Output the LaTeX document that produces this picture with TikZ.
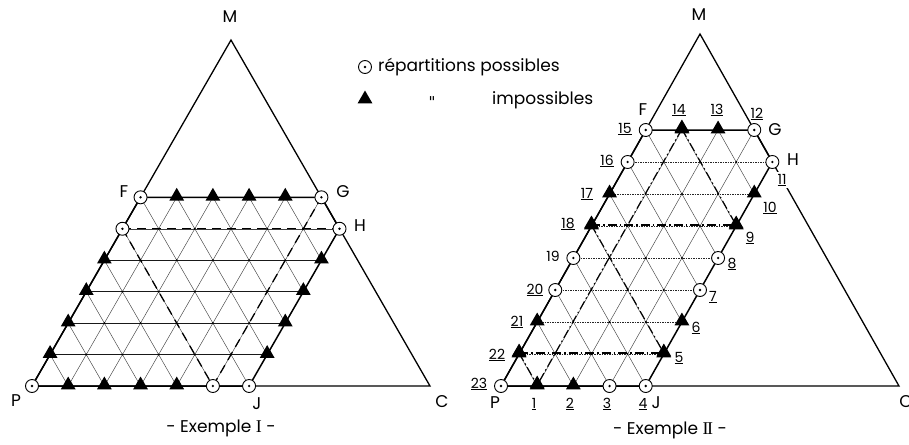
\documentclass[tikz,border=0pt]{standalone}
\usepackage{fontspec}
\setmainfont{Poppins}
\newfontfamily\romfont{Liberation Serif}
\newfontfamily\plainfont{DejaVu Sans}
\usetikzlibrary{shapes.geometric}
\tikzset{
  triedge/.style={line width=1.3pt},
  hexedge/.style={line width=1.5pt, line join=round},
  gridline/.style={line width=0.45pt, black!75},
  rowline/.style={line width=0.6pt, black!90},
  rowdot/.style={line width=0.6pt, black!85, dash pattern=on 1.5pt off 1pt},
  possible/.style={circle, draw, fill=white, minimum size=13pt, inner sep=0pt, line width=0.9pt,
    label={[circle, fill=black, inner sep=0pt, minimum size=2.6pt]center:{}}},
  impossible/.style={regular polygon, regular polygon sides=3, fill=black, minimum size=17pt, inner sep=0pt, yshift=1pt},
  lab/.style={font=\fontsize{17}{20}\selectfont, inner sep=0pt},
  num/.style={font=\fontsize{14}{16}\selectfont, inner sep=0.5pt},
  dashI/.style={line width=1.3pt, dash pattern=on 9pt off 6pt},
  dashII/.style={line width=1.1pt, dash pattern=on 9pt off 3pt on 1.5pt off 3pt},
  gdot/.style={circle, fill=black, inner sep=0pt, minimum size=2.2pt},
}
\newcommand{\romI}{{\romfont\fontsize{18}{20}\selectfont I}}
\newcommand{\romII}{{\romfont\fontsize{18}{20}\selectfont I\kern-1.6pt I}}
\begin{document}
\begin{tikzpicture}[x=1pt,y=-1pt]
\useasboundingbox (0,0) rectangle (909,444);

% ================= Example I =================
\begin{scope}[shift={(32,386)}, x={(36.18pt,0pt)}, y={(18.09pt,31.45pt)}]
  \coordinate (LP) at (0,0);
  \coordinate (LJ) at (6,0);
  \coordinate (LH) at (6,5);
  \coordinate (LG) at (5,6);
  \coordinate (LF) at (0,6);
  \coordinate (LM) at (0,11);
  \coordinate (LC) at (11,0);
  \coordinate (LQ) at (0,5);
  \coordinate (LK) at (5,0);
  % grid
  \foreach \r in {1,...,4} \draw[rowline] (0,\r) -- (6,\r);
  \draw[gridline] (0,5) -- (6,5);
  \foreach \k in {1,...,5} \draw[gridline] (\k,0) -- (\k,6);
  \foreach \s in {1,...,10}{
    \pgfmathtruncatemacro{\ka}{min(\s,6)}
    \pgfmathtruncatemacro{\ra}{\s-\ka}
    \pgfmathtruncatemacro{\kb}{max(0,\s-6)}
    \pgfmathtruncatemacro{\rb}{min(\s,6)}
    \draw[gridline] (\ka,\ra) -- (\kb,\rb);
  }
  \foreach \k in {1,...,5} \foreach \r in {1,...,5} \node[gdot] at (\k,\r) {};
  % outlines
  \draw[triedge] (LP) -- (LC) -- (LM) -- cycle;
  \draw[hexedge] (LP) -- (LJ) -- (LH) -- (LG) -- (LF) -- cycle;
  % dashed
  \draw[dashI] (LQ) -- (LH);
  \draw[dashI] (LQ) -- (LK);
  \draw[dashI] (LK) -- (LG);
  % markers
  \node[possible] (mLP) at (LP) {};
  \foreach \k in {1,...,4} \node[impossible] (mLb\k) at (\k,0) {};
  \node[possible] (mLK) at (LK) {};
  \node[possible] (mLJ) at (LJ) {};
  \foreach \r in {1,...,4} {
    \node[impossible] (mLl\r) at (0,\r) {};
    \node[impossible] (mLr\r) at (6,\r) {};
  }
  \node[possible] (mLQ) at (LQ) {};
  \node[possible] (mLH) at (LH) {};
  \node[possible] (mLF) at (LF) {};
  \foreach \k in {1,...,4} \node[impossible] (mLt\k) at (\k,6) {};
  \node[possible] (mLG) at (LG) {};
\end{scope}

\node[lab] (tLM) at (230,17) {M};
\node[lab] (tLF) at (124,192) {F};
\node[lab] (tLG) at (343,192) {G};
\node[lab] (tLH) at (360,226) {H};
\node[lab] (tLP) at (16,401) {P};
\node[lab] (tLJ) at (257,404) {J};
\node[lab] (tLC) at (442,402) {C};
\node[lab] (tEx1) at (221,428) {- Exemple \romI\ -};

% legend
\node[possible] (legC) at (365,67) {};
\node[lab, anchor=west] (legCt) at (378,67) {répartitions possibles};
\node[impossible] (legT) at (365,100) {};
\node[lab] (legD) at (432,102) {\plainfont\fontsize{15}{15}\selectfont "};
\node[lab, anchor=west] (legTt) at (492,100) {impossibles};

% ================= Example II =================
\begin{scope}[shift={(501,386)}, x={(36.18pt,0pt)}, y={(18.09pt,32pt)}]
  \coordinate (RP) at (0,0);
  \coordinate (RJ) at (4,0);
  \coordinate (RH) at (4,7);
  \coordinate (RG) at (3,8);
  \coordinate (RF) at (0,8);
  \coordinate (RM) at (0,11);
  \coordinate (RC) at (11,0);
  % grid
  \foreach \r in {1,...,7} \draw[rowdot] (0,\r) -- (4,\r);
  \foreach \k in {1,...,3} \draw[gridline] (\k,0) -- (\k,8);
  \foreach \s in {1,...,10}{
    \pgfmathtruncatemacro{\ka}{min(\s,4)}
    \pgfmathtruncatemacro{\ra}{\s-\ka}
    \pgfmathtruncatemacro{\kb}{max(0,\s-8)}
    \pgfmathtruncatemacro{\rb}{min(\s,8)}
    \draw[gridline] (\ka,\ra) -- (\kb,\rb);
  }
  \foreach \k in {1,...,3} \foreach \r in {1,...,7} \node[gdot] at (\k,\r) {};
  % outlines
  \draw[triedge] (RP) -- (RC) -- (RM) -- cycle;
  \draw[hexedge] (RP) -- (RJ) -- (RH) -- (RG) -- (RF) -- cycle;
  % markers
  \node[possible]   (R23) at (0,0) {};
  \node[impossible] (R1)  at (1,0) {};
  \node[impossible] (R2)  at (2,0) {};
  \node[possible]   (R3)  at (3,0) {};
  \node[possible]   (R4)  at (4,0) {};
  \node[impossible] (R5)  at (4,1) {};
  \node[impossible] (R6)  at (4,2) {};
  \node[possible]   (R7)  at (4,3) {};
  \node[possible]   (R8)  at (4,4) {};
  \node[impossible] (R9)  at (4,5) {};
  \node[impossible] (R10) at (4,6) {};
  \node[possible]   (R11) at (4,7) {};
  \node[possible]   (R12) at (3,8) {};
  \node[impossible] (R13) at (2,8) {};
  \node[impossible] (R14) at (1,8) {};
  \node[possible]   (R15) at (0,8) {};
  \node[possible]   (R16) at (0,7) {};
  \node[impossible] (R17) at (0,6) {};
  \node[impossible] (R18) at (0,5) {};
  \node[possible]   (R19) at (0,4) {};
  \node[possible]   (R20) at (0,3) {};
  \node[impossible] (R21) at (0,2) {};
  \node[impossible] (R22) at (0,1) {};
\end{scope}
% dash-dot construction
\draw[dashII] (R14.center) -- (R1.center);
\draw[dashII] (R14.center) -- (R9.center);
\draw[dashII] (R18.center) -- (R9.center);
\draw[dashII] (R18.center) -- (R5.center);
\draw[dashII] (R22.center) -- (R5.center);
\draw[dashII] (R22.center) -- (R1.center);
% markers again on top of the construction lines
\foreach \n in {1,5,9,14,18,22} \node[impossible, yshift=0pt] at (R\n.center) {};

\node[lab] (tRM) at (699,15) {M};
\node[lab] (tRF) at (643,110) {F};
\node[lab] (tRG) at (775,130) {G};
\node[lab] (tRH) at (793,160) {H};
\node[lab] (tRP) at (495,403) {P};
\node[lab] (tRJ) at (656,403) {J};
\node[lab] (tRC) at (906,402) {C};
\node[lab] (tEx2) at (670,430) {- Exemple \romII\ -};

\node[num] (n1)  at (534,404) {\underline{1}};
\node[num] (n2)  at (570,404) {\underline{2}};
\node[num] (n3)  at (607,404) {\underline{3}};
\node[num] (n4)  at (643,404) {\underline{4}};
\node[num] (n5)  at (679,358) {\underline{5}};
\node[num] (n6)  at (696,328) {\underline{6}};
\node[num] (n7)  at (713,297) {\underline{7}};
\node[num] (n8)  at (732,264) {\underline{8}};
\node[num] (n9)  at (750,238) {\underline{9}};
\node[num] (n10) at (770,208) {\underline{10}};
\node[num, fill=white, inner sep=2pt] (n11) at (782,180) {\underline{11}};
\node[num] (n12) at (757,114) {\underline{12}};
\node[num] (n13) at (717,110) {\underline{13}};
\node[num] (n14) at (679,110) {\underline{14}};
\node[num] (n15) at (625,129) {\underline{15}};
\node[num] (n16) at (607,161) {\underline{16}};
\node[num] (n17) at (587,194) {\underline{17}};
\node[num] (n18) at (568,224) {\underline{18}};
\node[num] (n19) at (553,256) {19};
\node[num] (n20) at (535,290) {\underline{20}};
\node[num] (n21) at (517,322) {\underline{21}};
\node[num] (n22) at (497,355) {\underline{22}};
\node[num] (n23) at (479,384) {\underline{23}};
\end{tikzpicture}
\end{document}
